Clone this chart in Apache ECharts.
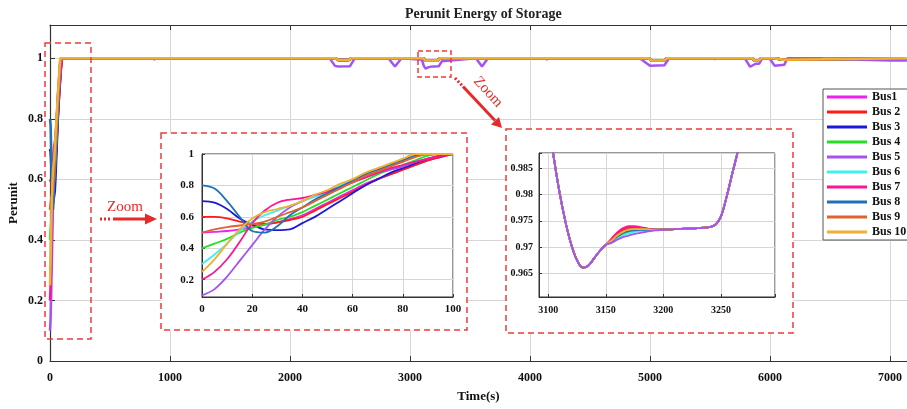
<!DOCTYPE html>
<html><head><meta charset="utf-8">
<script src="https://cdn.jsdelivr.net/npm/echarts@6/dist/echarts.min.js"></script>
<style>html,body{margin:0;padding:0;background:#fff}#c{width:907px;height:409px}</style>
</head><body><div id="c"></div>
<script>
// ---------- DATA ----------
const busNames = ['Bus1','Bus 2','Bus 3','Bus 4','Bus 5','Bus 6','Bus 7','Bus 8','Bus 9','Bus 10'];
const busColors = ['#f020f0','#ff1a1a','#1a1ad8','#22e022','#a452f5','#40f0f0','#ff1493','#1f70b8','#e0622f','#f0b030'];

const mainXTicks = [0,1000,2000,3000,4000,5000,6000,7000];
const mainYTicks = [0,0.2,0.4,0.6,0.8,1];

// start-up transient (0..100 s)
const startT = [0,5,10,15,20,25,30,35,40,45,50,55,60,65,70,75,80,85,90,95,100];
const startBus1  = [0.5,0.505,0.51,0.52,0.535,0.55,0.565,0.585,0.61,0.65,0.69,0.73,0.77,0.81,0.84,0.87,0.9,0.93,0.96,0.98,1];
const startBus2  = [0.6,0.6,0.59,0.57,0.555,0.555,0.565,0.58,0.6,0.64,0.68,0.72,0.76,0.8,0.84,0.87,0.9,0.93,0.96,0.98,1];
const startBus3  = [0.7,0.69,0.65,0.59,0.55,0.52,0.515,0.52,0.56,0.6,0.65,0.7,0.75,0.8,0.84,0.88,0.91,0.94,0.97,0.99,1];
const startBus4  = [0.4,0.43,0.46,0.5,0.53,0.55,0.58,0.6,0.63,0.67,0.71,0.75,0.79,0.83,0.87,0.9,0.93,0.96,0.99,1,1];
const startBus5  = [0.1,0.14,0.22,0.32,0.42,0.52,0.6,0.66,0.7,0.73,0.76,0.79,0.82,0.85,0.88,0.9,0.92,0.95,0.97,0.99,1];
const startBus6  = [0.3,0.36,0.43,0.51,0.57,0.61,0.64,0.67,0.7,0.73,0.76,0.8,0.83,0.87,0.9,0.93,0.96,0.99,1,1,1];
const startBus7  = [0.2,0.25,0.33,0.44,0.56,0.64,0.69,0.71,0.72,0.74,0.76,0.79,0.82,0.85,0.88,0.91,0.93,0.95,0.97,0.99,1];
const startBus8  = [0.8,0.78,0.7,0.6,0.51,0.5,0.54,0.61,0.66,0.71,0.75,0.79,0.83,0.87,0.9,0.93,0.96,0.99,1,1,1];
const startBus9  = [0.5,0.52,0.535,0.545,0.555,0.57,0.6,0.63,0.66,0.7,0.74,0.78,0.82,0.86,0.89,0.92,0.95,0.98,1,1,1];
const startBus10 = [0.25,0.33,0.43,0.52,0.59,0.63,0.65,0.67,0.7,0.74,0.77,0.81,0.84,0.88,0.91,0.94,0.97,1,1,1,1];

// long-run behaviour after 100 s
const tail5T = [850,870,890,2330,2375,2400,2500,2540,2820,2875,2930,3100,3115,3130,3150,3175,3200,3240,3265,3550,3600,3650,4120,4140,4160,4915,5000,5120,5160,5520,5540,5560,5790,5835,5880,5910,5935,5995,6040,6120,6145,6420,6700,7000,7150];
const tail5V = [1,0.996,1,1,0.975,0.973,0.974,1,1,0.973,1,0.995,0.975,0.966,0.970,0.9725,0.9733,0.9738,0.99,1,0.973,1,1,0.996,1,1,0.975,0.977,1,1,0.997,1,1,0.972,0.982,0.982,1,1,0.975,0.979,1,1,0.996,0.993,0.993];
const tailOT = [2380,2400,2490,2510,3110,3130,3230,3250,4990,5010,5120,5140,5850,5870,5910,5925,6040,6055,6110,6125,7150];
const tailOV = [1,0.994,0.994,1,1,0.993,0.993,1,1,0.993,0.993,1,1,0.993,0.993,1,1,0.995,0.995,1,1];

// zoom window 3100..3270 s
const zoomHeadT = [3100,3105,3110,3115,3120,3125,3130,3135,3140,3145,3150];
const zoomHeadV = [0.994,0.9868,0.9802,0.9748,0.9705,0.9675,0.9661,0.9665,0.9679,0.9693,0.9704];
const zoomMidT = [3155,3160,3165,3170,3175,3180,3185,3190,3195];
const zoomMidBus1  = [0.9715,0.9727,0.9734,0.9738,0.9738,0.9737,0.9735,0.9734,0.9733];
const zoomMidBus2  = [0.9714,0.9725,0.9732,0.9736,0.9737,0.9736,0.9735,0.9734,0.9733];
const zoomMidBus3  = [0.9711,0.9721,0.9728,0.9732,0.9733,0.9733,0.9733,0.9733,0.9733];
const zoomMidBus4  = [0.971,0.9718,0.9725,0.9729,0.9731,0.9732,0.9732,0.9733,0.9733];
const zoomMidBus5  = [0.9708,0.9714,0.9719,0.9722,0.9725,0.9727,0.9729,0.9731,0.9732];
const zoomMidBus6  = [0.9709,0.9716,0.9722,0.9726,0.9729,0.9731,0.9731,0.9732,0.9733];
const zoomMidBus7  = [0.9716,0.9728,0.9736,0.974,0.974,0.9738,0.9736,0.9734,0.9733];
const zoomMidBus8  = [0.9711,0.972,0.9727,0.9731,0.9732,0.9733,0.9733,0.9733,0.9733];
const zoomMidBus9  = [0.9713,0.9723,0.973,0.9734,0.9735,0.9735,0.9734,0.9733,0.9733];
const zoomMidBus10 = [0.9712,0.9722,0.9729,0.9733,0.9734,0.9734,0.9734,0.9733,0.9733];
const zoomTailT = [3200,3210,3220,3230,3240,3245,3250,3255,3260,3265,3270];
const zoomTailV = [0.9733,0.9734,0.9735,0.9736,0.9738,0.9742,0.9758,0.9796,0.9841,0.9885,0.994];

// ---------- BUILD ----------
const startBus = [startBus1,startBus2,startBus3,startBus4,startBus5,startBus6,startBus7,startBus8,startBus9,startBus10];
const zoomMidBus = [zoomMidBus1,zoomMidBus2,zoomMidBus3,zoomMidBus4,zoomMidBus5,zoomMidBus6,zoomMidBus7,zoomMidBus8,zoomMidBus9,zoomMidBus10];
const FONT = "'Liberation Serif', 'DejaVu Serif', serif";
const RED = '#ee3b3b';

const series = [];
for (let i = 0; i < 10; i++) {
  const d = startT.map((t, k) => [t, startBus[i][k]]);
  const tT = i === 4 ? tail5T : tailOT;
  const tV = i === 4 ? tail5V : tailOV;
  tT.forEach((t, k) => d.push([t, tV[k]]));
  series.push({name: busNames[i], type: 'line', xAxisIndex: 0, yAxisIndex: 0, data: d,
    showSymbol: false, color: busColors[i], lineStyle: {width: 2.5}, z: 2});
}
for (let i = 0; i < 10; i++) {
  series.push({name: busNames[i], type: 'line', xAxisIndex: 2, yAxisIndex: 1,
    data: startT.map((t, k) => [t, startBus[i][k]]), smooth: 0.35,
    showSymbol: false, color: busColors[i], lineStyle: {width: 1.8}, z: 7});
}
[0,1,2,3,5,6,7,8,9,4].forEach(i => {
  const d = [];
  zoomHeadT.forEach((t, k) => d.push([t, zoomHeadV[k]]));
  zoomMidT.forEach((t, k) => d.push([t, zoomMidBus[i][k]]));
  zoomTailT.forEach((t, k) => d.push([t, zoomTailV[k]]));
  series.push({name: busNames[i], type: 'line', xAxisIndex: 3, yAxisIndex: 2, data: d, smooth: 0.35,
    showSymbol: false, color: busColors[i], lineStyle: {width: 1.8}, z: 7});
});

const lblStyle = (size) => ({fontFamily: FONT, fontWeight: 'bold', fontSize: size, color: '#111'});
const onMult = (v, step) => Math.abs(v / step - Math.round(v / step)) < 1e-6;

const option = {
  animation: false,
  backgroundColor: '#fff',
  title: {text: 'Perunit Energy of Storage', left: 400, top: 2,
    textStyle: {fontFamily: FONT, fontWeight: 'bold', fontSize: 14, color: '#222'}},
  legend: {data: busNames, orient: 'vertical', left: 823, top: 89, icon: 'rect',
    itemWidth: 40, itemHeight: 3, itemGap: 3, itemTextGap: 4, padding: [2, 6, 2, 4],
    borderColor: '#555', borderWidth: 1, backgroundColor: '#fff', selectedMode: false, z: 20,
    textStyle: Object.assign(lblStyle(12), {lineHeight: 12})},
  grid: [
    {left: 50, top: 25, width: 857, height: 336, outerBoundsMode: 'none', containLabel: false},
    {left: 202, top: 154, width: 251, height: 143, show: true, backgroundColor: '#fff', borderColor: '#333', borderWidth: 1, z: 5, outerBoundsMode: 'none', containLabel: false},
    {left: 539, top: 153, width: 236, height: 144, show: true, backgroundColor: '#fff', borderColor: '#333', borderWidth: 1, z: 5, outerBoundsMode: 'none', containLabel: false}
  ],
  xAxis: [
    {type: 'value', gridIndex: 0, min: 0, max: 7142, interval: 1000,
      axisLine: {lineStyle: {color: '#333', width: 1.2}}, axisTick: {inside: true, length: 5, lineStyle: {color: '#333'}},
      axisLabel: Object.assign(lblStyle(12), {margin: 11, formatter: v => mainXTicks.includes(v) ? String(v) : ''}),
      splitLine: {lineStyle: {color: '#d6d6d6'}},
      name: 'Time(s)', nameLocation: 'middle', nameGap: 29, nameTextStyle: lblStyle(13)},
    {type: 'value', gridIndex: 0, position: 'top', min: 0, max: 7142, interval: 1000,
      axisLine: {lineStyle: {color: '#333', width: 1.2}}, axisTick: {inside: true, length: 5, lineStyle: {color: '#333'}},
      axisLabel: {show: false}, splitLine: {show: false}},
    {type: 'value', gridIndex: 1, min: 0, max: 100, interval: 20, z: 6,
      axisLine: {lineStyle: {color: '#333'}}, axisTick: {inside: true, length: 3, lineStyle: {color: '#333'}},
      axisLabel: Object.assign(lblStyle(11), {margin: 7, formatter: v => String(v)}),
      splitLine: {lineStyle: {color: '#d6d6d6'}}},
    {type: 'value', gridIndex: 2, min: 3092, max: 3297, splitNumber: 4, z: 6,
      axisLine: {lineStyle: {color: '#333'}}, axisTick: {inside: true, length: 3, lineStyle: {color: '#333'}},
      axisLabel: Object.assign(lblStyle(10), {margin: 8, formatter: v => onMult(v, 50) ? String(v) : ''}),
      splitLine: {lineStyle: {color: '#d6d6d6'}}}
  ],
  yAxis: [
    {type: 'value', gridIndex: 0, min: 0, max: 1.11, interval: 0.2,
      axisLine: {show: true, lineStyle: {color: '#333', width: 1.2}}, axisTick: {show: true, inside: true, length: 5, lineStyle: {color: '#333'}},
      axisLabel: Object.assign(lblStyle(12), {margin: 7, formatter: v => mainYTicks.some(t => Math.abs(t - v) < 1e-6) ? String(+v.toFixed(1)) : ''}),
      splitLine: {lineStyle: {color: '#d6d6d6'}}},
    {type: 'value', gridIndex: 1, min: 0.09, max: 1, splitNumber: 5, z: 6,
      axisLine: {show: true, lineStyle: {color: '#333'}}, axisTick: {show: true, inside: true, length: 3, lineStyle: {color: '#333'}},
      axisLabel: Object.assign(lblStyle(11), {margin: 8, formatter: v => onMult(v, 0.2) ? String(+v.toFixed(1)) : ''}),
      splitLine: {lineStyle: {color: '#d6d6d6'}}},
    {type: 'value', gridIndex: 2, min: 0.9605, max: 0.9879, splitNumber: 5, z: 6,
      axisLine: {show: true, lineStyle: {color: '#333'}}, axisTick: {show: true, inside: true, length: 3, lineStyle: {color: '#333'}},
      axisLabel: Object.assign(lblStyle(10), {margin: 6, formatter: v => onMult(v, 0.005) ? String(+v.toFixed(3)) : ''}),
      splitLine: {lineStyle: {color: '#d6d6d6'}}}
  ],
  graphic: [
    {type: 'text', z: 10, x: 14, y: 203, rotation: Math.PI / 2, style: {text: 'Perunit', fill: '#111', font: "bold 13px 'Liberation Serif', serif", textAlign: 'center', textVerticalAlign: 'middle'}},
    {type: 'rect', z: 4, shape: {x: 45, y: 43, width: 46, height: 296}, style: {fill: null, stroke: RED, lineWidth: 1.5, lineDash: [6, 4]}},
    {type: 'rect', z: 4, shape: {x: 418, y: 51, width: 33, height: 26}, style: {fill: null, stroke: RED, lineWidth: 1.5, lineDash: [5, 3]}},
    {type: 'rect', z: 4, shape: {x: 161, y: 133, width: 306, height: 197}, style: {fill: '#fff', stroke: RED, lineWidth: 1.5, lineDash: [6, 4]}},
    {type: 'rect', z: 4, shape: {x: 506, y: 129, width: 287, height: 204}, style: {fill: '#fff', stroke: RED, lineWidth: 1.5, lineDash: [6, 4]}},
    {type: 'text', z: 10, x: 125, y: 207, style: {text: 'Zoom', fill: '#e52a2a', font: "15px 'Liberation Serif', serif", textAlign: 'center', textVerticalAlign: 'middle'}},
    {type: 'line', z: 10, shape: {x1: 100, y1: 219, x2: 112, y2: 219}, style: {stroke: '#e52a2a', lineWidth: 3, lineDash: [2, 2]}},
    {type: 'line', z: 10, shape: {x1: 113, y1: 219, x2: 147, y2: 219}, style: {stroke: '#e52a2a', lineWidth: 3}},
    {type: 'polygon', z: 10, shape: {points: [[145, 213.5], [157, 219], [145, 224.5]]}, style: {fill: '#e52a2a'}},
    {type: 'text', z: 10, x: 488, y: 92, rotation: -0.83, style: {text: 'Zoom', fill: '#e52a2a', font: "15px 'Liberation Serif', serif", textAlign: 'center', textVerticalAlign: 'middle'}},
    {type: 'line', z: 10, shape: {x1: 455, y1: 78, x2: 462, y2: 85.5}, style: {stroke: '#e52a2a', lineWidth: 3, lineDash: [2, 2]}},
    {type: 'line', z: 10, shape: {x1: 463, y1: 86.5, x2: 495, y2: 120.5}, style: {stroke: '#e52a2a', lineWidth: 3}},
    {type: 'polygon', z: 10, shape: {points: [[491, 124.5], [502, 128], [499, 117]]}, style: {fill: '#e52a2a'}}
  ],
  series: series
};

const chart = echarts.init(document.getElementById('c'), null, {renderer: 'canvas'});
chart.setOption(option);
</script>
</body></html>
